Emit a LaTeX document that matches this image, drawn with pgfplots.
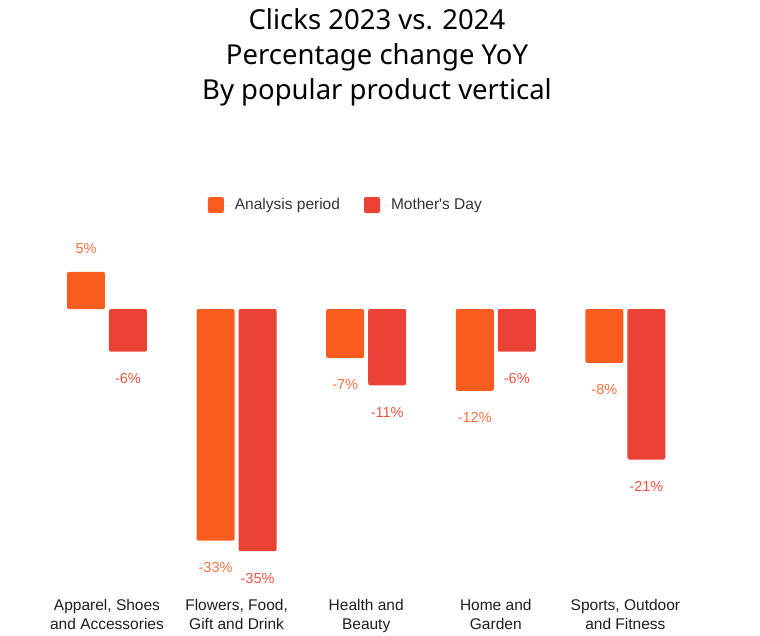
\documentclass[border=0pt]{standalone}
\usepackage{pgfplots}
\usepackage{pgfplotstable}
\pgfplotsset{compat=1.18}
\usepackage{fontspec}
\setmainfont{Liberation Sans}[Ligatures=TeXOff]
\newfontfamily\titlefont{Noto Sans}
\definecolor{aorange}{HTML}{F85C1E}
\definecolor{mred}{HTML}{EA4335}
\definecolor{lorange}{HTML}{F7703D}
\definecolor{lred}{HTML}{EE5646}
\definecolor{txt}{HTML}{1E1E1E}
\definecolor{legtxt}{HTML}{333333}

% Analysis period (negative values)
\pgfplotstableread{
x y lab
1 -33.1 -33
2 -7.0 -7
3 -11.7 -12
4 -7.7 -8
}\analysisneg
% Analysis period (positive values)
\pgfplotstableread{
x y lab
0 5.3 5
}\analysispos
% Mother's Day
\pgfplotstableread{
x y lab
0 -6.1 -6
1 -34.6 -35
2 -10.9 -11
3 -6.1 -6
4 -21.5 -21
}\mothers

\begin{document}
\begin{tikzpicture}
\useasboundingbox (0pt,0pt) rectangle (760pt,-636pt);
\begin{scope}[every node/.style={anchor=base, font=\titlefont\fontsize{27.5}{33}\selectfont, text=black}]
\node at (377pt,-30pt) {Clicks 2023 vs. 2024};
\node at (377pt,-65pt) {Percentage change YoY};
\node at (377pt,-100pt) {By popular product vertical};
\end{scope}
\begin{axis}[
  at={(3.3pt,-589pt)}, anchor=south west,
  scale only axis, width=725.76pt, height=350pt,
  xmin=-0.8, xmax=4.8, ymin=-40, ymax=10,
  axis line style={draw=none}, tick style={draw=none},
  ytick=\empty,
  xtick={0,1,2,3,4},
  xticklabels={{Apparel, Shoes\\and Accessories},{Flowers, Food,\\Gift and Drink},{Health and\\Beauty},{Home and\\Garden},{Sports, Outdoor\\and Fitness}},
  xticklabel style={align=center, font=\fontsize{15.5}{19}\selectfont, text=txt, yshift=-2pt},
  ybar, bar width=38pt,
  clip=false,
  point meta=explicit symbolic,
  nodes near coords={\pgfplotspointmeta\%},
  nodes near coords style={font=\fontsize{14.5}{17}\selectfont, inner xsep=0pt, inner ysep=21.5pt},
  legend style={draw=none, fill=none, at={(axis description cs:0.472,1.097)}, anchor=center,
    font=\fontsize{15.5}{19}\selectfont, text=legtxt,
    /tikz/every even column/.append style={column sep=22pt}},
  legend columns=2,
  legend image code/.code={\fill[#1] (0pt,-8pt) rectangle (16pt,8pt); \path (0pt,0pt) -- (25pt,0pt);},
]
\addplot[fill=aorange, draw=none, rounded corners=2pt, bar shift=-21pt,
  every node near coord/.append style={text=lorange, anchor=north}]
  table[x=x, y=y, meta=lab] {\analysisneg};
\addlegendentry{Analysis period}
\addplot[fill=mred, draw=none, rounded corners=2pt, bar shift=21pt,
  every node near coord/.append style={text=lred, anchor=north}]
  table[x=x, y=y, meta=lab] {\mothers};
\addlegendentry{Mother's Day}
\addplot[forget plot, fill=aorange, draw=none, rounded corners=2pt, bar shift=-21pt,
  every node near coord/.append style={text=lorange, anchor=south, inner ysep=18pt}]
  table[x=x, y=y, meta=lab] {\analysispos};
\end{axis}
\end{tikzpicture}
\end{document}
